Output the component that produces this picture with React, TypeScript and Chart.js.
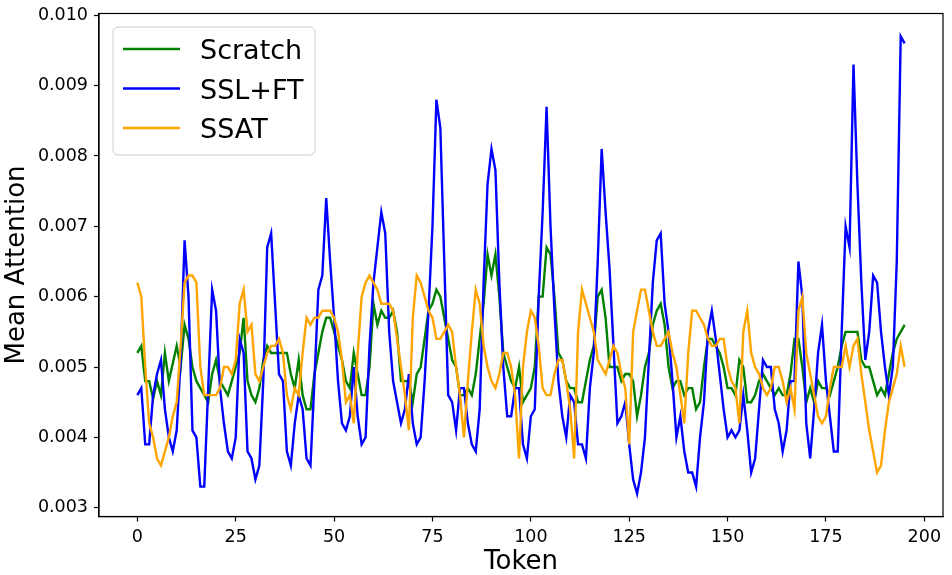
import React, { useEffect, useRef } from "react";
import { Chart, registerables } from "chart.js";

Chart.register(...registerables);

// mean attention per token
const scratch = [
  0.0052, 0.0053, 0.0048, 0.0048, 0.00455, 0.0048, 0.0046, 0.0052, 0.0048, 0.00505,
  0.0053, 0.005, 0.0056, 0.0054, 0.005, 0.0048, 0.0047, 0.0046, 0.0045, 0.0049,
  0.0051, 0.0048, 0.0047, 0.0046, 0.0048, 0.005, 0.0052, 0.0057, 0.0048, 0.0046,
  0.0045, 0.0047, 0.0051, 0.0053, 0.0052, 0.0052, 0.0052, 0.0052, 0.0052, 0.0049,
  0.0047, 0.0051, 0.0046, 0.0044, 0.0044, 0.0049, 0.0052, 0.0055, 0.0057, 0.0057,
  0.0055, 0.0053, 0.0051, 0.0048, 0.0047, 0.0052, 0.0049, 0.0046, 0.0046, 0.005,
  0.0059, 0.0056, 0.0058, 0.0057, 0.0057, 0.0058, 0.0055, 0.0048, 0.0048, 0.0048,
  0.0045, 0.0049, 0.005, 0.0054, 0.0058, 0.0059, 0.0061, 0.006, 0.0057, 0.0054,
  0.0051, 0.005, 0.0046, 0.0046, 0.0047, 0.0046, 0.0049, 0.0054, 0.0059, 0.0066,
  0.0063, 0.0066, 0.006, 0.0052, 0.005, 0.0048, 0.0047, 0.005, 0.0045, 0.0046,
  0.0047, 0.005, 0.006, 0.006, 0.0067, 0.0066, 0.006, 0.0052, 0.0051, 0.0048,
  0.0047, 0.0047, 0.0045, 0.0045, 0.0048, 0.0051, 0.0053, 0.006, 0.0061, 0.0057,
  0.005, 0.005, 0.005, 0.0048, 0.0049, 0.0049, 0.0048, 0.0043, 0.0046, 0.005,
  0.0052, 0.0056, 0.0058, 0.0059, 0.0056, 0.005, 0.0047, 0.0048, 0.0048, 0.0046,
  0.0047, 0.0047, 0.0044, 0.0045, 0.005, 0.0054, 0.0054, 0.0053, 0.0052, 0.005,
  0.0047, 0.0047, 0.0046, 0.0051, 0.005, 0.0045, 0.0045, 0.0046, 0.0048, 0.0049,
  0.0048, 0.0047, 0.0046, 0.0047, 0.0046, 0.0046, 0.0049, 0.0054, 0.0054, 0.005,
  0.0045, 0.0047, 0.0045, 0.0048, 0.0047, 0.0047, 0.0046, 0.0048, 0.005, 0.0053,
  0.0055, 0.0055, 0.0055, 0.0055, 0.0051, 0.005, 0.005, 0.0048, 0.0046, 0.0047,
  0.0046, 0.0049, 0.0052, 0.0054, 0.0055, 0.0056,
];

const sslFt = [
  0.0046, 0.0047, 0.0039, 0.0039, 0.0046, 0.0049, 0.0051, 0.0044, 0.004, 0.0038,
  0.0041, 0.0051, 0.0068, 0.006, 0.0041, 0.004, 0.0033, 0.0033, 0.0047, 0.0061,
  0.0058, 0.0047, 0.0042, 0.0038, 0.0037, 0.004, 0.0054, 0.0052, 0.0038, 0.0037,
  0.0034, 0.0036, 0.0048, 0.0067, 0.0069, 0.0059, 0.0049, 0.0048, 0.0038, 0.0036,
  0.0042, 0.0046, 0.0044, 0.0037, 0.0036, 0.0048, 0.0061, 0.0063, 0.0074, 0.0065,
  0.0057, 0.0048, 0.0042, 0.0041, 0.0043, 0.005, 0.0043, 0.0039, 0.004, 0.0053,
  0.0062, 0.0067, 0.0072, 0.0069, 0.0055, 0.0048, 0.0045, 0.0042, 0.0044, 0.0049,
  0.0042, 0.0039, 0.004, 0.0048, 0.0058, 0.007, 0.0088, 0.0084, 0.0065, 0.0046,
  0.0045, 0.0041, 0.0047, 0.0047, 0.0042, 0.0039, 0.0038, 0.0044, 0.0062, 0.0076,
  0.0081, 0.0078, 0.0062, 0.005, 0.0043, 0.0043, 0.0047, 0.0047, 0.0039, 0.0037,
  0.0043, 0.0044, 0.006, 0.0072, 0.0087, 0.007, 0.0058, 0.0048, 0.0043, 0.004,
  0.0046, 0.0045, 0.0039, 0.0039, 0.0037, 0.0047, 0.0052, 0.0065, 0.0081, 0.0072,
  0.0064, 0.0053, 0.0042, 0.0043, 0.0045, 0.0039, 0.0034, 0.0032, 0.0035, 0.004,
  0.0051, 0.0062, 0.0068, 0.0069, 0.0059, 0.0055, 0.0048, 0.004, 0.0043, 0.0038,
  0.0035, 0.0035, 0.0033, 0.004, 0.0045, 0.0055, 0.0058, 0.0054, 0.0049, 0.0044,
  0.004, 0.0041, 0.004, 0.0041, 0.0046, 0.0041, 0.0035, 0.0037, 0.0044, 0.0051,
  0.005, 0.005, 0.0044, 0.0042, 0.0038, 0.0041, 0.0048, 0.0048, 0.0065, 0.006,
  0.0042, 0.0037, 0.0044, 0.0052, 0.0056, 0.0048, 0.0043, 0.0038, 0.0038, 0.0055,
  0.007, 0.0067, 0.0093, 0.0076, 0.0062, 0.0051, 0.0055, 0.0063, 0.0062, 0.0055,
  0.005, 0.0046, 0.005, 0.0065, 0.0097, 0.0096,
];

const ssat = [
  0.0062, 0.006, 0.005, 0.0042, 0.004, 0.0037, 0.0036, 0.0038, 0.004, 0.0043,
  0.0045, 0.0053, 0.0062, 0.0063, 0.0063, 0.0062, 0.005, 0.0046, 0.0046, 0.0046,
  0.0046, 0.0047, 0.005, 0.005, 0.0049, 0.0051, 0.0059, 0.0061, 0.0055, 0.0056,
  0.0049, 0.0048, 0.005, 0.0052, 0.0053, 0.0053, 0.0054, 0.0052, 0.0046, 0.0044,
  0.0047, 0.0046, 0.0052, 0.0057, 0.0056, 0.0057, 0.0057, 0.0058, 0.0058, 0.0058,
  0.0057, 0.0055, 0.0051, 0.0045, 0.0046, 0.0042, 0.0052, 0.006, 0.0062, 0.0063,
  0.0062, 0.0061, 0.0059, 0.0059, 0.0059, 0.0058, 0.0054, 0.005, 0.0046, 0.0041,
  0.0057, 0.0063, 0.0062, 0.006, 0.0058, 0.0057, 0.0054, 0.0054, 0.0055, 0.0056,
  0.0055, 0.005, 0.0046, 0.004, 0.0048, 0.0055, 0.0061, 0.0059, 0.0053, 0.005,
  0.0048, 0.0047, 0.0049, 0.0052, 0.0052, 0.005, 0.0046, 0.0037, 0.005, 0.0055,
  0.0058, 0.0057, 0.0053, 0.0047, 0.0046, 0.0046, 0.0049, 0.0051, 0.0051, 0.0048,
  0.0044, 0.0037, 0.0055, 0.0061, 0.0059, 0.0057, 0.0055, 0.0051, 0.005, 0.0049,
  0.0051, 0.0053, 0.0052, 0.0049, 0.0047, 0.0039, 0.0055, 0.0058, 0.0061, 0.0061,
  0.0058, 0.0055, 0.0053, 0.0053, 0.0054, 0.0055, 0.0052, 0.005, 0.0046, 0.0042,
  0.0052, 0.0058, 0.0058, 0.0057, 0.0056, 0.0054, 0.0053, 0.0053, 0.0054, 0.0054,
  0.005, 0.0048, 0.0047, 0.0042, 0.0055, 0.0058, 0.0052, 0.005, 0.0049, 0.0047,
  0.0046, 0.0047, 0.005, 0.005, 0.0048, 0.0045, 0.0047, 0.0044, 0.0058, 0.006,
  0.0052, 0.0049, 0.0046, 0.0043, 0.0042, 0.0043, 0.0047, 0.005, 0.005, 0.005,
  0.0053, 0.005, 0.0053, 0.0054, 0.0049, 0.0045, 0.0041, 0.0038, 0.0035, 0.0036,
  0.0041, 0.0045, 0.0047, 0.0049, 0.0053, 0.005,
];

const tokens = scratch.map((_, i) => i);
const xTicks = [0, 25, 50, 75, 100, 125, 150, 175, 200];
const yTicks = [0.003, 0.004, 0.005, 0.006, 0.007, 0.008, 0.009, 0.01];

const FONT = "'DejaVu Sans', Verdana, sans-serif";

const toPoints = (vals: number[]) => tokens.map((t, i) => ({ x: t, y: vals[i] }));

// matplotlib-style box around the plot
const frame = {
  id: "frame",
  afterDatasetsDraw(chart: Chart) {
    const { ctx, chartArea } = chart;
    ctx.save();
    ctx.strokeStyle = "#000";
    ctx.lineWidth = 1.2;
    ctx.strokeRect(chartArea.left, chartArea.top, chartArea.right - chartArea.left, chartArea.bottom - chartArea.top);
    ctx.restore();
  },
};

const legendBox = {
  id: "legendBox",
  afterDraw(chart: Chart) {
    const { ctx, chartArea } = chart;
    const x = chartArea.left + 14;
    const y = chartArea.top + 13.5;
    const w = 202;
    const h = 128;
    ctx.save();
    ctx.beginPath();
    ctx.roundRect(x, y, w, h, 5);
    ctx.fillStyle = "rgba(255,255,255,0.8)";
    ctx.fill();
    ctx.strokeStyle = "#cccccc";
    ctx.lineWidth = 1;
    ctx.stroke();
    ctx.font = `27px ${FONT}`;
    ctx.textBaseline = "alphabetic";
    chart.data.datasets.forEach((ds: any, i: number) => {
      const cy = y + 22 + i * 39.5;
      ctx.strokeStyle = ds.borderColor;
      ctx.lineWidth = 2.4;
      ctx.beginPath();
      ctx.moveTo(x + 10, cy);
      ctx.lineTo(x + 67, cy);
      ctx.stroke();
      ctx.fillStyle = "#000";
      ctx.fillText(ds.label, x + 87, cy + 10);
    });
    ctx.restore();
  },
};

const App: React.FC = () => {
  const canvasRef = useRef<HTMLCanvasElement | null>(null);
  const chartRef = useRef<Chart | null>(null);

  useEffect(() => {
    if (chartRef.current) {
      chartRef.current.destroy();
    }
    if (!canvasRef.current) return;

    const tickFont = { family: FONT, size: 17.5 };
    const titleFont = { family: FONT, size: 26, lineHeight: 1 };

    chartRef.current = new Chart(canvasRef.current, {
      type: "line",
      data: {
        datasets: [
          { label: "Scratch", data: toPoints(scratch), borderColor: "#008000", order: 3 },
          { label: "SSL+FT", data: toPoints(sslFt), borderColor: "#0000ff", order: 2 },
          { label: "SSAT", data: toPoints(ssat), borderColor: "#ffa500", order: 1 },
        ],
      },
      options: {
        animation: false,
        responsive: true,
        maintainAspectRatio: false,
        layout: { padding: { top: 13.5, right: 9, left: 0, bottom: 0 } },
        elements: {
          line: { borderWidth: 2.4, tension: 0, fill: false },
          point: { radius: 0, hoverRadius: 0 },
        },
        plugins: {
          legend: { display: false },
          tooltip: { enabled: false },
        },
        scales: {
          x: {
            type: "linear",
            min: -9.75,
            max: 204.75,
            afterBuildTicks: (axis: any) => {
              axis.ticks = xTicks.map((v) => ({ value: v }));
            },
            afterFit: (scale: any) => {
              scale.height = 58.5;
              scale.paddingLeft = 0;
              scale.paddingRight = 0;
            },
            ticks: { font: tickFont, color: "#000", padding: 5, maxRotation: 0 },
            grid: { display: true, drawOnChartArea: false, drawTicks: true, tickLength: 5, tickWidth: 1.2, tickColor: "#000" },
            border: { display: true, color: "#000", width: 1.2 },
            title: { display: true, text: "Token", font: titleFont, color: "#000", padding: { top: 0, bottom: 0 } },
          },
          y: {
            type: "linear",
            min: 0.002875,
            max: 0.010025,
            afterBuildTicks: (axis: any) => {
              axis.ticks = yTicks.map((v) => ({ value: v }));
            },
            afterFit: (scale: any) => {
              scale.width = 99;
              scale.paddingTop = 0;
              scale.paddingBottom = 0;
            },
            ticks: { font: tickFont, color: "#000", padding: 6, callback: (v: any) => Number(v).toFixed(3) },
            grid: { display: true, drawOnChartArea: false, drawTicks: true, tickLength: 5, tickWidth: 1.2, tickColor: "#000" },
            border: { display: true, color: "#000", width: 1.2 },
            title: { display: true, text: "Mean Attention", font: titleFont, color: "#000", padding: { top: 4, bottom: 0 } },
          },
        },
      },
      plugins: [frame, legendBox],
    });

    return () => {
      chartRef.current?.destroy();
      chartRef.current = null;
    };
  }, []);

  return (
    <div style={{ position: "absolute", left: 0, top: 0, width: 952, height: 575, background: "#fff" }}>
      <canvas ref={canvasRef} />
    </div>
  );
};

export default App;
